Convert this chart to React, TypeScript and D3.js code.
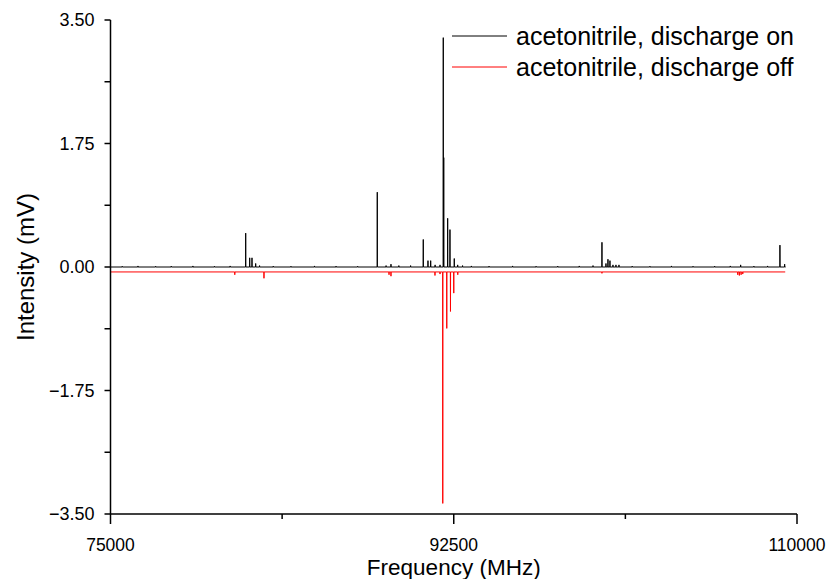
import React from "react";
import * as d3 from "d3";

// ---------- data ----------
const xTicksMajor = [75000, 92500, 110000];
const xTicksMinor = [83750, 101250];
const yTicksMajor = [-3.5, -1.75, 0, 1.75, 3.5];
const yTicksMinor = [-2.625, -0.875, 0.875, 2.625];

const onStart = 75000;
const onEnd = 109420;
const onBaseline = 0;
const onPeakFreq = [
  75600, 76400, 77300, 78100, 79200, 80300, 81100, 81893, 82097, 82214, 82402, 82600,
  83300, 84200, 85400, 86500, 87600, 88601, 89050, 89300, 89700, 90300, 90946, 91186,
  91324, 91550, 91800, 91966, 91990, 92190, 92307, 92527, 92700, 92950, 93400, 94300,
  95500, 96700, 97800, 98900, 99600, 100056, 100260, 100362, 100464, 100617, 100770,
  100923, 101600, 102500, 103600, 104700, 105800, 106600, 107127, 107800, 108500, 109130, 109370,
];
const onPeakInt = [
  0.01, 0.015, 0.01, 0.012, 0.015, 0.01, 0.015, 0.48, 0.13, 0.13, 0.05, 0.02,
  0.012, 0.01, 0.015, 0.012, 0.01, 1.06, 0.02, 0.04, 0.02, 0.02, 0.39, 0.09,
  0.09, 0.03, 0.03, 3.25, 1.55, 0.69, 0.53, 0.12, 0.03, 0.02, 0.015, 0.012,
  0.015, 0.01, 0.012, 0.015, 0.02, 0.35, 0.05, 0.11, 0.09, 0.03, 0.03,
  0.03, 0.012, 0.01, 0.015, 0.01, 0.012, 0.015, 0.03, 0.012, 0.015, 0.31, 0.04,
];

const offStart = 75000;
const offEnd = 109400;
const offBaseline = -0.07;
const offPeakFreq = [
  81337, 82825, 89200, 89300, 91543, 91800, 91940, 92144, 92333, 92501, 92705, 100056,
  106980, 107060, 107150, 107235,
];
const offPeakInt = [
  -0.04, -0.09, -0.04, -0.06, -0.05, -0.03, -3.28, -0.80, -0.56, -0.30, -0.04, -0.02,
  -0.04, -0.05, -0.04, -0.03,
];

const seriesNames = ["acetonitrile, discharge on", "acetonitrile, discharge off"];
const seriesColors = ["#000000", "#ff0000"];

// ---------- layout ----------
const W = 832;
const H = 579;
const left = 110.5;
const right = 797;
const top = 20;
const bottom = 514;
const FONT = "'Liberation Sans', Arial, sans-serif";

function buildTrace(start: number, end: number, base: number, freqs: number[], ints: number[]) {
  const pts: [number, number][] = [[start, base]];
  const order = freqs.map((_, i) => i).sort((a, b) => freqs[a] - freqs[b]);
  const hw = 6;
  for (const i of order) {
    pts.push([freqs[i] - hw, base]);
    pts.push([freqs[i], base + ints[i]]);
    pts.push([freqs[i] + hw, base]);
  }
  pts.push([end, base]);
  return pts;
}

export default function App() {
  const x = d3.scaleLinear().domain([75000, 110000]).range([left, right]);
  const y = d3.scaleLinear().domain([-3.5, 3.5]).range([bottom, top]);
  const line = d3
    .line<[number, number]>()
    .x((d) => x(d[0]))
    .y((d) => y(d[1]));

  const onPts = buildTrace(onStart, onEnd, onBaseline, onPeakFreq, onPeakInt);
  const offPts = buildTrace(offStart, offEnd, offBaseline, offPeakFreq, offPeakInt);

  return (
    <svg
      width={W}
      height={H}
      style={{ position: "absolute", left: 0, top: 0, background: "#fff" }}
      fontFamily={FONT}
    >
      <rect width={W} height={H} fill="#fff" />
      {/* traces */}
      <path d={line(offPts) || ""} fill="none" stroke={seriesColors[1]} strokeWidth={1} />
      <path d={line(onPts) || ""} fill="none" stroke={seriesColors[0]} strokeWidth={1} />

      {/* axes */}
      <line x1={left} x2={left} y1={top} y2={bottom} stroke="#000" strokeWidth={1.5} />
      <line x1={left} x2={right} y1={bottom} y2={bottom} stroke="#000" strokeWidth={1.5} />
      {yTicksMajor.concat(yTicksMinor).map((t) => (
        <line key={"yt" + t} x1={left - 6} x2={left} y1={y(t)} y2={y(t)} stroke="#000" strokeWidth={1.5} />
      ))}
      {yTicksMajor.map((t) => (
        <text key={"yl" + t} x={left - 16} y={y(t)} dy="0.35em" textAnchor="end" fontSize={18} fill="#000">
          {d3.format(".2f")(t)}
        </text>
      ))}
      {xTicksMajor.map((t) => (
        <line key={"xt" + t} x1={x(t)} x2={x(t)} y1={bottom} y2={bottom + 10} stroke="#000" strokeWidth={1.5} />
      ))}
      {xTicksMinor.map((t) => (
        <line key={"xm" + t} x1={x(t)} x2={x(t)} y1={bottom} y2={bottom + 5} stroke="#000" strokeWidth={1.5} />
      ))}
      {xTicksMajor.map((t) => (
        <text key={"xl" + t} x={x(t)} y={551} textAnchor="middle" fontSize={17.5} fill="#000">
          {t}
        </text>
      ))}
      <text x={(left + right) / 2} y={575} textAnchor="middle" fontSize={22.5} fill="#000">
        Frequency (MHz)
      </text>
      <text
        transform={`translate(34, ${y(0)}) rotate(-90)`}
        textAnchor="middle"
        fontSize={24}
        fill="#000"
      >
        Intensity (mV)
      </text>

      {/* legend */}
      {seriesNames.map((name, i) => (
        <g key={name}>
          <line x1={452} x2={507} y1={36 + i * 31} y2={36 + i * 31} stroke={seriesColors[i]} strokeWidth={1} />
          <text x={516} y={36 + i * 31} dy="0.35em" fontSize={25} fill="#000">
            {name}
          </text>
        </g>
      ))}
    </svg>
  );
}
